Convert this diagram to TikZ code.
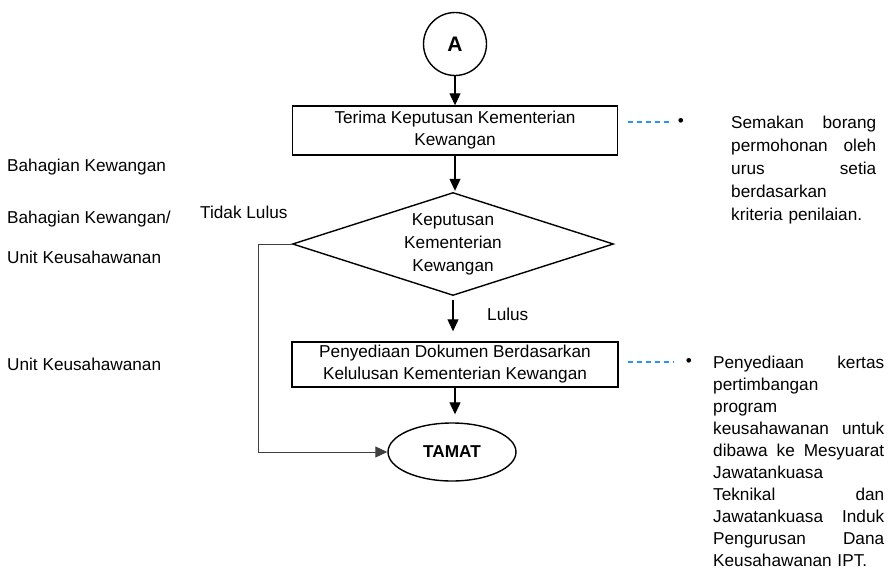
\documentclass[tikz,border=0pt]{standalone}
\usepackage{fontspec}
\setmainfont{Liberation Sans}
\usetikzlibrary{shapes.geometric,arrows.meta}
\definecolor{birumuda}{RGB}{40,150,240}

\begin{document}
\begin{tikzpicture}[x=1pt,y=-1pt]
\tikzset{
  every node/.style={font=\fontsize{17.2}{22}\selectfont},
  proses/.style={draw,line width=1.4pt,align=center,inner sep=0pt},
  panah/.style={-{Triangle[length=12pt,width=11pt]},line width=1.1pt},
  putus/.style={draw=birumuda,line width=1.3pt,dash pattern=on 5pt off 4pt},
  catatan/.style={anchor=north west,inner sep=0pt,align=left}
}
\useasboundingbox (0,0) rectangle (894,574);

% carta alir
\node[proses,circle,minimum size=63,font=\fontsize{21}{24}\selectfont] (mula) at (455,44) {\textbf{A}};
\node[proses,minimum width=325,minimum height=49] (terima) at (455,130.5)
    {Terima Keputusan Kementerian\\Kewangan};
\node[proses,diamond,aspect=3.1,minimum width=321,minimum height=103,
      font=\fontsize{17.2}{23}\selectfont] (keputusan) at (453,244)
    {Keputusan\\Kementerian\\Kewangan};
\node[proses,minimum width=326,minimum height=45] (dokumen) at (455,364.5)
    {Penyediaan Dokumen Berdasarkan\\Kelulusan Kementerian Kewangan};
\node[proses,ellipse,minimum width=128,minimum height=58] (tamat) at (452,452)
    {\textbf{TAMAT}};
\coordinate (tepi) at (258,244);

\draw[panah] (mula) -- (terima);
\draw[panah,shorten >=1pt] (terima) -- (terima |- keputusan.north);
\draw[panah,shorten <=4pt,shorten >=10pt] (keputusan.south) -- (keputusan.south |- dokumen.north);
\draw[panah,shorten >=8pt] (dokumen.south) -- (dokumen.south |- tamat.north);
\draw[panah,black!75,line width=0.9pt] (keputusan.west) -- (tepi) |- (tamat.west);

\node[anchor=west,inner sep=0pt] (tidak) at (200,212) {Tidak Lulus};
\node[anchor=west,inner sep=0pt] (lulus) at (487,314) {Lulus};

% bahagian
\node[anchor=west,inner sep=0pt] (bah1) at (7,167) {Bahagian Kewangan};
\node[anchor=west,inner sep=0pt] (bah2) at (7,219) {Bahagian Kewangan/};
\node[anchor=west,inner sep=0pt] (unit1) at (7,257) {Unit Keusahawanan};
\node[anchor=west,inner sep=0pt] (unit2) at (7,364) {Unit Keusahawanan};

% catatan
\coordinate (c1) at (672,122);
\node[inner sep=0pt] (titik1) at (681,122) {•};
\draw[putus] (terima.east |- c1) ++(10,0) -- (c1);
\node[catatan,text width=145,font=\fontsize{17.2}{23}\selectfont] (nota1) at (731,116)
    {Semakan\hfill borang\\
     permohonan\hfill oleh\\
     urus\hfill setia\\
     berdasarkan\\
     kriteria penilaian.};

\coordinate (c2) at (673,362);
\node[inner sep=0pt] (titik2) at (689,362) {•};
\draw[putus] (dokumen.east |- c2) ++(9,0) -- (c2);
\node[catatan,text width=171] (nota2) at (713,356)
    {Penyediaan\hfill kertas\\
     pertimbangan\\
     program\\
     keusahawanan\hfill untuk\\
     dibawa\hfill ke\hfill Mesyuarat\\
     Jawatankuasa\\
     Teknikal\hfill dan\\
     Jawatankuasa\hfill Induk\\
     Pengurusan\hfill Dana\\
     Keusahawanan IPT.};
\end{tikzpicture}
\end{document}
